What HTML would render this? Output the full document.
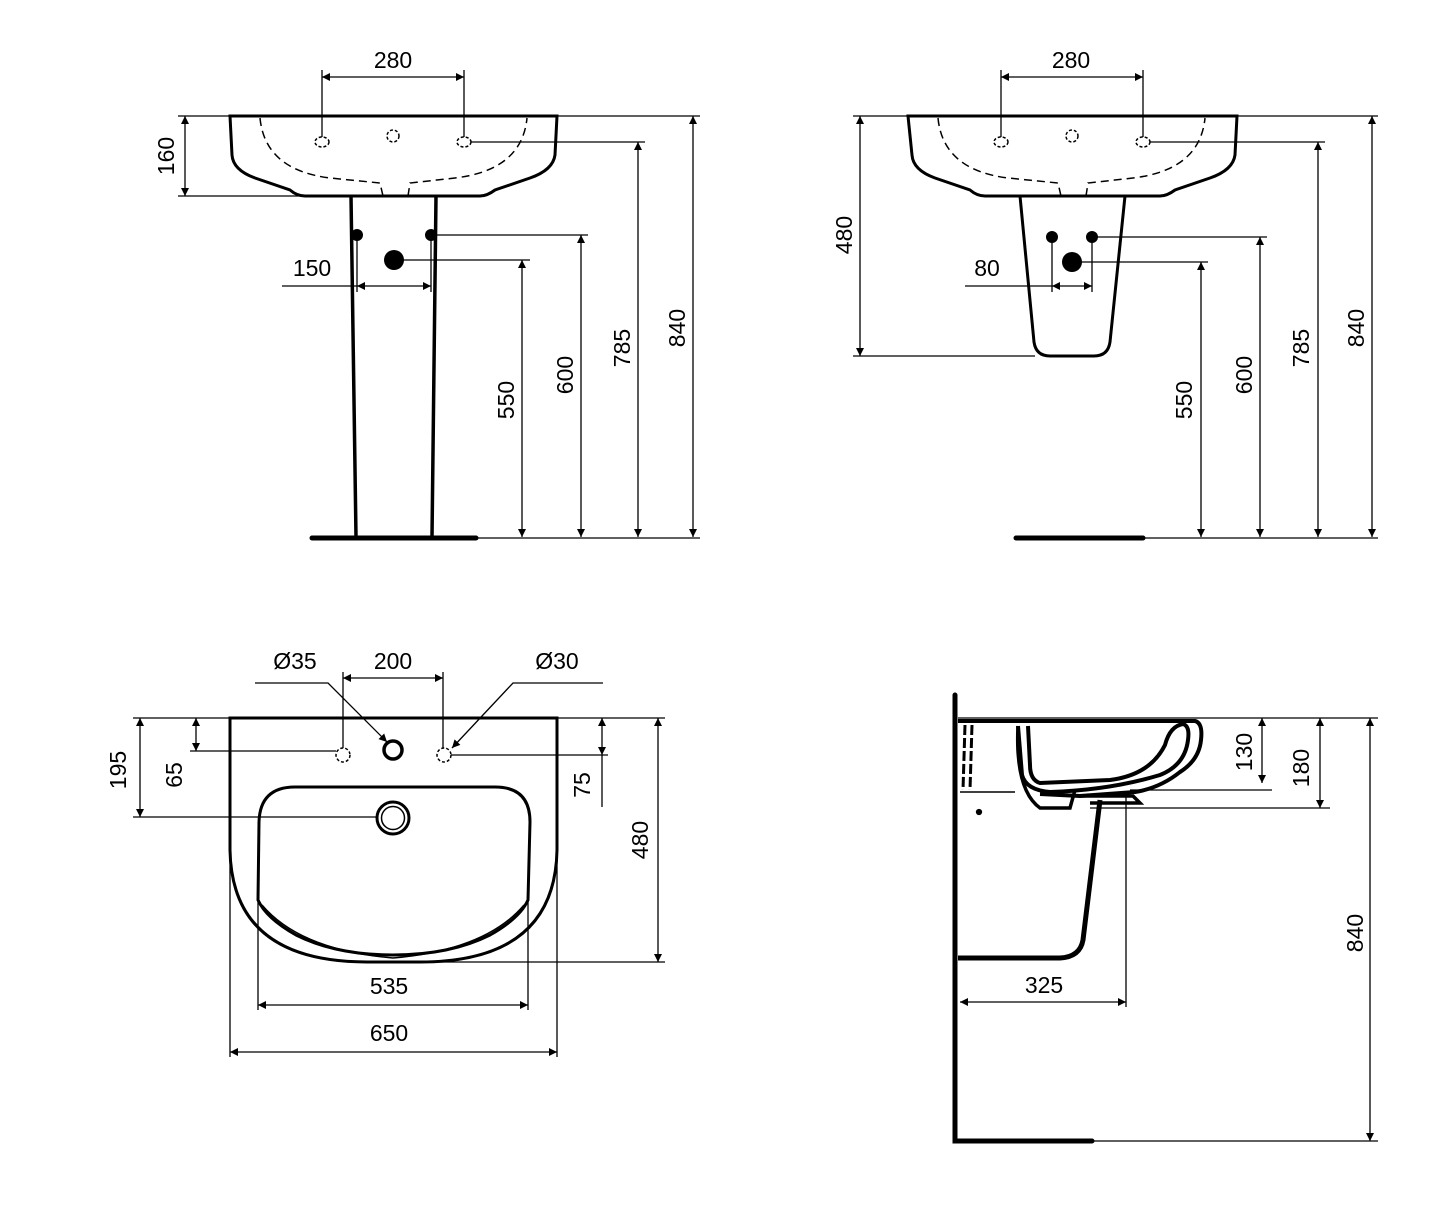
<!DOCTYPE html>
<html><head><meta charset="utf-8"><style>
html,body{margin:0;padding:0;background:#fff}
svg{display:block}
text{font-family:"Liberation Sans",sans-serif;font-size:23px;fill:#000}
</style></head><body>
<svg width="1452" height="1206" viewBox="0 0 1452 1206" xmlns="http://www.w3.org/2000/svg">
<defs>
<marker id="a" viewBox="0 0 10 10" refX="10" refY="5" markerWidth="12" markerHeight="8" orient="auto-start-reverse" markerUnits="userSpaceOnUse"><path d="M0,0 L10,5 L0,10 z" fill="#000"/></marker>
</defs>
<g fill="none" stroke="#000" stroke-width="1.3">
<!-- ===== TOP LEFT ===== -->
<path d="M230,116 L557,116 L555,155 Q553,170 530,178 L495,190 Q487,196 480,196 L305,196 Q297,196 290,190 L255,178 Q233,170 232,155 Z" stroke-width="3"/>
<path d="M260,118 Q265,170 330,178 L380,183 L383,196 M408,196 L410,183 L455,178 Q522,170 527,118" stroke-dasharray="8,5" stroke-width="1.5"/>
<ellipse cx="322" cy="142" rx="7" ry="5" stroke-dasharray="3,2" stroke-width="1.5"/>
<ellipse cx="393" cy="136" rx="6" ry="6" stroke-dasharray="3,2" stroke-width="1.5"/>
<ellipse cx="464" cy="142" rx="7" ry="5" stroke-dasharray="3,2" stroke-width="1.5"/>
<path d="M351,196 L356,537 M436,196 L432,537" stroke-width="3.5"/>
<path d="M312,538 L476,538" stroke-width="5" stroke-linecap="round"/>
<line x1="322" y1="70" x2="322" y2="137"/><line x1="464" y1="70" x2="464" y2="137"/>
<line x1="322" y1="77" x2="464" y2="77" marker-start="url(#a)" marker-end="url(#a)"/>
<line x1="178" y1="116" x2="230" y2="116"/><line x1="178" y1="196" x2="300" y2="196"/>
<line x1="185" y1="116" x2="185" y2="196" marker-start="url(#a)" marker-end="url(#a)"/>
<line x1="471" y1="142" x2="645" y2="142"/>
<line x1="431" y1="235" x2="588" y2="235"/>
<line x1="394" y1="260" x2="530" y2="260"/>
<line x1="557" y1="116" x2="700" y2="116"/>
<line x1="476" y1="538" x2="700" y2="538"/>
<line x1="357" y1="235" x2="357" y2="292"/><line x1="431" y1="235" x2="431" y2="292"/>
<line x1="282" y1="286" x2="357" y2="286"/>
<line x1="357" y1="286" x2="431" y2="286" marker-start="url(#a)" marker-end="url(#a)"/>
<line x1="522" y1="260" x2="522" y2="537" marker-start="url(#a)" marker-end="url(#a)"/>
<line x1="581" y1="235" x2="581" y2="537" marker-start="url(#a)" marker-end="url(#a)"/>
<line x1="638" y1="142" x2="638" y2="537" marker-start="url(#a)" marker-end="url(#a)"/>
<line x1="693" y1="116" x2="693" y2="537" marker-start="url(#a)" marker-end="url(#a)"/>

<!-- ===== TOP RIGHT ===== -->
<path d="M908,116 L1237,116 L1235,155 Q1233,170 1210,178 L1175,190 Q1167,196 1160,196 L985,196 Q977,196 970,190 L935,178 Q913,170 912,155 Z" stroke-width="3"/>
<path d="M938,118 Q943,170 1008,178 L1058,183 L1061,196 M1086,196 L1088,183 L1133,178 Q1200,170 1205,118" stroke-dasharray="8,5" stroke-width="1.5"/>
<ellipse cx="1001" cy="142" rx="7" ry="5" stroke-dasharray="3,2" stroke-width="1.5"/>
<ellipse cx="1072" cy="136" rx="6" ry="6" stroke-dasharray="3,2" stroke-width="1.5"/>
<ellipse cx="1143" cy="142" rx="7" ry="5" stroke-dasharray="3,2" stroke-width="1.5"/>
<path d="M1020,196 L1034,342 Q1036,356 1050,356 L1094,356 Q1108,356 1110,342 L1125,196" stroke-width="3"/>
<path d="M1016,538 L1143,538" stroke-width="5" stroke-linecap="round"/>
<line x1="1001" y1="70" x2="1001" y2="137"/><line x1="1143" y1="70" x2="1143" y2="137"/>
<line x1="1001" y1="77" x2="1143" y2="77" marker-start="url(#a)" marker-end="url(#a)"/>
<line x1="853" y1="116" x2="908" y2="116"/><line x1="853" y1="356" x2="1035" y2="356"/>
<line x1="860" y1="116" x2="860" y2="356" marker-start="url(#a)" marker-end="url(#a)"/>
<line x1="1150" y1="142" x2="1325" y2="142"/>
<line x1="1092" y1="237" x2="1267" y2="237"/>
<line x1="1072" y1="262" x2="1208" y2="262"/>
<line x1="1237" y1="116" x2="1378" y2="116"/>
<line x1="1143" y1="538" x2="1378" y2="538"/>
<line x1="1052" y1="237" x2="1052" y2="292"/><line x1="1092" y1="237" x2="1092" y2="292"/>
<line x1="965" y1="286" x2="1052" y2="286"/>
<line x1="1052" y1="286" x2="1092" y2="286" marker-start="url(#a)" marker-end="url(#a)"/>
<line x1="1201" y1="262" x2="1201" y2="537" marker-start="url(#a)" marker-end="url(#a)"/>
<line x1="1260" y1="237" x2="1260" y2="537" marker-start="url(#a)" marker-end="url(#a)"/>
<line x1="1318" y1="142" x2="1318" y2="537" marker-start="url(#a)" marker-end="url(#a)"/>
<line x1="1372" y1="116" x2="1372" y2="537" marker-start="url(#a)" marker-end="url(#a)"/>

<!-- ===== BOTTOM LEFT ===== -->
<path d="M230,718 L557,718 L557,850 Q555,962 420,962 L367,962 Q232,962 230,850 Z" stroke-width="3"/>
<path d="M258,900 L259,822 Q260,787 295,787 L495,787 Q530,787 530,822 L528,900 Q520,918 490,935 Q450,955 393,955 Q336,955 296,935 Q266,918 258,900 Z" stroke-width="3"/>
<path d="M262,905 Q300,950 393,958 Q486,950 524,905" stroke-width="1.5"/>
<circle cx="393" cy="818" r="16" stroke-width="3"/><circle cx="393" cy="818" r="11.5" stroke-width="1.5"/>
<circle cx="343" cy="755" r="7" stroke-dasharray="3,2" stroke-width="1.5"/>
<circle cx="393" cy="750" r="9" stroke-width="3.5"/>
<circle cx="444" cy="755" r="7" stroke-dasharray="3,2" stroke-width="1.5"/>
<line x1="343" y1="672" x2="343" y2="748"/><line x1="443" y1="672" x2="443" y2="748"/>
<line x1="343" y1="678" x2="443" y2="678" marker-start="url(#a)" marker-end="url(#a)"/>
<path d="M255,683 L328,683 L387,742" marker-end="url(#a)"/>
<path d="M603,683 L513,683 L452,748" marker-end="url(#a)"/>
<line x1="133" y1="718" x2="230" y2="718"/>
<line x1="133" y1="817" x2="377" y2="817"/>
<line x1="140" y1="718" x2="140" y2="817" marker-start="url(#a)" marker-end="url(#a)"/>
<line x1="190" y1="751" x2="336" y2="751"/>
<line x1="196" y1="718" x2="196" y2="751" marker-start="url(#a)" marker-end="url(#a)"/>
<line x1="557" y1="718" x2="665" y2="718"/>
<line x1="451" y1="755" x2="608" y2="755"/>
<line x1="602" y1="718" x2="602" y2="755" marker-start="url(#a)" marker-end="url(#a)"/>
<line x1="602" y1="755" x2="602" y2="807"/>
<line x1="393" y1="962" x2="665" y2="962"/>
<line x1="658" y1="718" x2="658" y2="962" marker-start="url(#a)" marker-end="url(#a)"/>
<line x1="258" y1="900" x2="258" y2="1010"/><line x1="528" y1="900" x2="528" y2="1010"/>
<line x1="258" y1="1005" x2="528" y2="1005" marker-start="url(#a)" marker-end="url(#a)"/>
<line x1="230" y1="850" x2="230" y2="1057"/><line x1="557" y1="850" x2="557" y2="1057"/>
<line x1="230" y1="1052" x2="557" y2="1052" marker-start="url(#a)" marker-end="url(#a)"/>

<!-- ===== BOTTOM RIGHT ===== -->
<path d="M955,695 L955,1141 L1092,1141" stroke-width="5" stroke-linecap="round"/>
<line x1="958" y1="718" x2="1378" y2="718"/>
<path d="M958,721 L1195,721 Q1203,723 1201,740 Q1199,760 1180,772 Q1160,788 1135,792 L1080,796 L1040,794" stroke-width="4"/>
<path d="M1018,726 L1022,775 Q1026,790 1050,792 Q1110,790 1160,775 Q1185,765 1188,740 Q1190,726 1183,724 Q1170,726 1165,745 Q1150,775 1110,780 L1040,783 Q1030,780 1030,765 L1028,726" stroke-width="4"/>
<path d="M1018,726 Q1015,790 1040,808 L1070,808 L1075,790 M1080,796 L1133,796 L1140,803 L1090,803" stroke-width="3.5"/>
<path d="M1100,800 L1083,940 Q1080,957 1060,958 L958,958" stroke-width="5"/>
<path d="M960,792 L1015,792" stroke-width="1.5"/>
<path d="M965,725 L963,790 M972,725 L970,790" stroke-width="3" stroke-dasharray="10,3"/>
<circle cx="979" cy="812" r="2.5" fill="#000"/>
<line x1="1130" y1="790" x2="1272" y2="790"/>
<line x1="1262" y1="718" x2="1262" y2="783" marker-start="url(#a)" marker-end="url(#a)"/>
<line x1="1090" y1="808" x2="1330" y2="808"/>
<line x1="1320" y1="718" x2="1320" y2="808" marker-start="url(#a)" marker-end="url(#a)"/>
<line x1="1092" y1="1141" x2="1378" y2="1141"/>
<line x1="1370" y1="718" x2="1370" y2="1141" marker-start="url(#a)" marker-end="url(#a)"/>
<line x1="1126" y1="795" x2="1126" y2="1007"/>
<line x1="960" y1="1002" x2="1126" y2="1002" marker-start="url(#a)" marker-end="url(#a)"/>
</g>
<g fill="#000">
<circle cx="357" cy="235" r="6"/><circle cx="431" cy="235" r="6"/><circle cx="394" cy="260" r="10"/>
<circle cx="1052" cy="237" r="6"/><circle cx="1092" cy="237" r="6"/><circle cx="1072" cy="262" r="10"/>
</g>
<g text-anchor="middle">
<text x="393" y="68">280</text>
<text x="1071" y="68">280</text>
<text x="312" y="276">150</text>
<text x="987" y="276">80</text>
<text x="295" y="669">Ø35</text>
<text x="393" y="669">200</text>
<text x="557" y="669">Ø30</text>
<text x="389" y="994">535</text>
<text x="389" y="1041">650</text>
<text x="1044" y="993">325</text>
<text transform="translate(174,156) rotate(-90)">160</text>
<text transform="translate(514,400) rotate(-90)">550</text>
<text transform="translate(573,375) rotate(-90)">600</text>
<text transform="translate(630,348) rotate(-90)">785</text>
<text transform="translate(685,328) rotate(-90)">840</text>
<text transform="translate(852,235) rotate(-90)">480</text>
<text transform="translate(1192,400) rotate(-90)">550</text>
<text transform="translate(1252,375) rotate(-90)">600</text>
<text transform="translate(1309,348) rotate(-90)">785</text>
<text transform="translate(1364,328) rotate(-90)">840</text>
<text transform="translate(126,770) rotate(-90)">195</text>
<text transform="translate(182,775) rotate(-90)">65</text>
<text transform="translate(590,785) rotate(-90)">75</text>
<text transform="translate(648,840) rotate(-90)">480</text>
<text transform="translate(1252,752) rotate(-90)">130</text>
<text transform="translate(1309,768) rotate(-90)">180</text>
<text transform="translate(1363,933) rotate(-90)">840</text>
</g>
</svg>
</body></html>
